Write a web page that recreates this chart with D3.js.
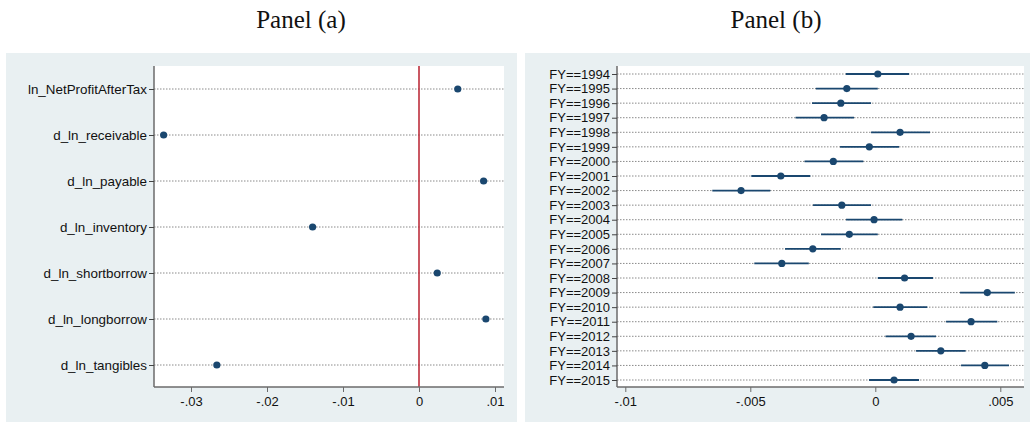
<!DOCTYPE html>
<html><head><meta charset="utf-8">
<script src="https://cdn.jsdelivr.net/npm/d3@7"></script>
<style>html,body{margin:0;padding:0;background:#fff;}svg{display:block;}</style>
</head><body>
<svg id="c" width="1033" height="422"></svg>
<script>
// Panel (a)
const varsA = ["ln_NetProfitAfterTax","d_ln_receivable","d_ln_payable","d_ln_inventory","d_ln_shortborrow","d_ln_longborrow","d_ln_tangibles"];
const coefA = [0.0051, -0.0336, 0.0085, -0.0140, 0.0024, 0.0088, -0.0266];
const ticksA = [-0.03, -0.02, -0.01, 0, 0.01];
const tickLabelsA = ["-.03", "-.02", "-.01", "0", ".01"];

// Panel (b)
const yearsB = ["FY==1994","FY==1995","FY==1996","FY==1997","FY==1998","FY==1999","FY==2000","FY==2001","FY==2002","FY==2003","FY==2004","FY==2005","FY==2006","FY==2007","FY==2008","FY==2009","FY==2010","FY==2011","FY==2012","FY==2013","FY==2014","FY==2015"];
const coefB = [0.0001,-0.00114,-0.00138,-0.00205,0.00099,-0.00024,-0.00168,-0.00378,-0.00537,-0.00134,-0.00005,-0.00104,-0.0025,-0.00374,0.00117,0.00448,0.00099,0.00383,0.00143,0.00262,0.00438,0.00075];
const lowB  = [-0.00118,-0.00238,-0.00253,-0.00319,-0.00017,-0.00141,-0.00283,-0.00496,-0.00652,-0.00249,-0.00117,-0.00217,-0.00361,-0.00484,0.0001,0.00339,-0.00008,0.00283,0.00041,0.00163,0.00343,-0.00025];
const highB = [0.00135,0.0001,-0.00017,-0.00085,0.00219,0.00095,-0.00048,-0.0026,-0.0042,-0.00017,0.00108,0.0001,-0.00138,-0.00266,0.00231,0.00558,0.00208,0.00488,0.00243,0.00361,0.00535,0.00175];
const ticksB = [-0.01, -0.005, 0, 0.005];
const tickLabelsB = ["-.01", "-.005", "0", ".005"];

const svg = d3.select("#c");
const BG = "#e9f0f2", NAVY = "#1a476f", AXIS = "#6b6b6b";

function panel(opt) {
  const g = svg.append("g");
  g.append("rect").attr("x", opt.bg[0]).attr("y", opt.bg[1]).attr("width", opt.bg[2]).attr("height", opt.bg[3]).attr("fill", BG);
  g.append("rect").attr("x", opt.left).attr("y", opt.top).attr("width", opt.right - opt.left).attr("height", opt.bottom - opt.top).attr("fill", "#fff");
  svg.append("text").attr("x", opt.titleX).attr("y", 28).attr("text-anchor", "middle")
    .attr("font-family", "'Liberation Serif','Times New Roman',serif").attr("font-size", 25).attr("fill", "#111").text(opt.title);

  const x = d3.scaleLinear().domain(opt.xdom).range([opt.left, opt.right]);
  const y = d3.scalePoint().domain(opt.cats).range(opt.yrange);

  g.selectAll("line.grid").data(opt.cats).enter().append("line")
    .attr("x1", opt.left).attr("x2", opt.right).attr("y1", d => y(d)).attr("y2", d => y(d))
    .attr("stroke", "#8a8a8a").attr("stroke-width", 1).attr("stroke-dasharray", "1.5,1.5");

  if (opt.zeroLine) {
    g.append("line").attr("x1", x(0)).attr("x2", x(0)).attr("y1", opt.top).attr("y2", opt.bottom)
      .attr("stroke", "#b8202f").attr("stroke-width", 1.5);
  }

  const xa = d3.axisBottom(x).tickValues(opt.ticks).tickFormat((d, i) => opt.tickLabels[i]).tickSize(5).tickPadding(5);
  const gx = g.append("g").attr("transform", `translate(0,${opt.bottom})`).call(xa);
  gx.select(".domain").attr("d", `M${opt.left},0H${opt.right}`).attr("stroke", AXIS).attr("stroke-width", 1.5);
  gx.selectAll(".tick line").attr("stroke", AXIS);
  gx.selectAll(".tick text").attr("font-family", "'Liberation Sans',Arial,sans-serif").attr("font-size", 13).attr("fill", "#111");

  const ya = d3.axisLeft(y).tickSize(5).tickPadding(2);
  const gy = g.append("g").attr("transform", `translate(${opt.left},0)`).call(ya);
  gy.select(".domain").attr("d", `M0,${opt.top}V${opt.bottom}`).attr("stroke", AXIS).attr("stroke-width", 1.5);
  gy.selectAll(".tick line").attr("stroke", "#444");
  gy.selectAll(".tick text").attr("font-family", "'Liberation Sans',Arial,sans-serif").attr("font-size", opt.yFont).attr("fill", "#111");

  if (opt.low) {
    g.selectAll("line.ci").data(opt.cats).enter().append("line")
      .attr("x1", (d, i) => x(opt.low[i])).attr("x2", (d, i) => x(opt.high[i]))
      .attr("y1", d => y(d)).attr("y2", d => y(d))
      .attr("stroke", NAVY).attr("stroke-width", 1.8);
  }
  g.selectAll("circle").data(opt.cats).enter().append("circle")
    .attr("cx", (d, i) => x(opt.coef[i])).attr("cy", d => y(d)).attr("r", 3.6).attr("fill", NAVY);
}

panel({
  bg: [6, 53, 511, 369], left: 154, right: 504, top: 66, bottom: 387,
  title: "Panel (a)", titleX: 301, yFont: 13.4,
  xdom: [(154 - 419) / 7600, (504 - 419) / 7600], cats: varsA, yrange: [89, 365],
  ticks: ticksA, tickLabels: tickLabelsA, coef: coefA, zeroLine: true
});
panel({
  bg: [525, 53, 505, 369], left: 617, right: 1024, top: 66, bottom: 387,
  title: "Panel (b)", titleX: 776, yFont: 13,
  xdom: [(617 - 875.3) / 25000, (1024 - 875.3) / 25000], cats: yearsB, yrange: [74, 380],
  ticks: ticksB, tickLabels: tickLabelsB, coef: coefB, low: lowB, high: highB, zeroLine: false
});
</script>
</body></html>
